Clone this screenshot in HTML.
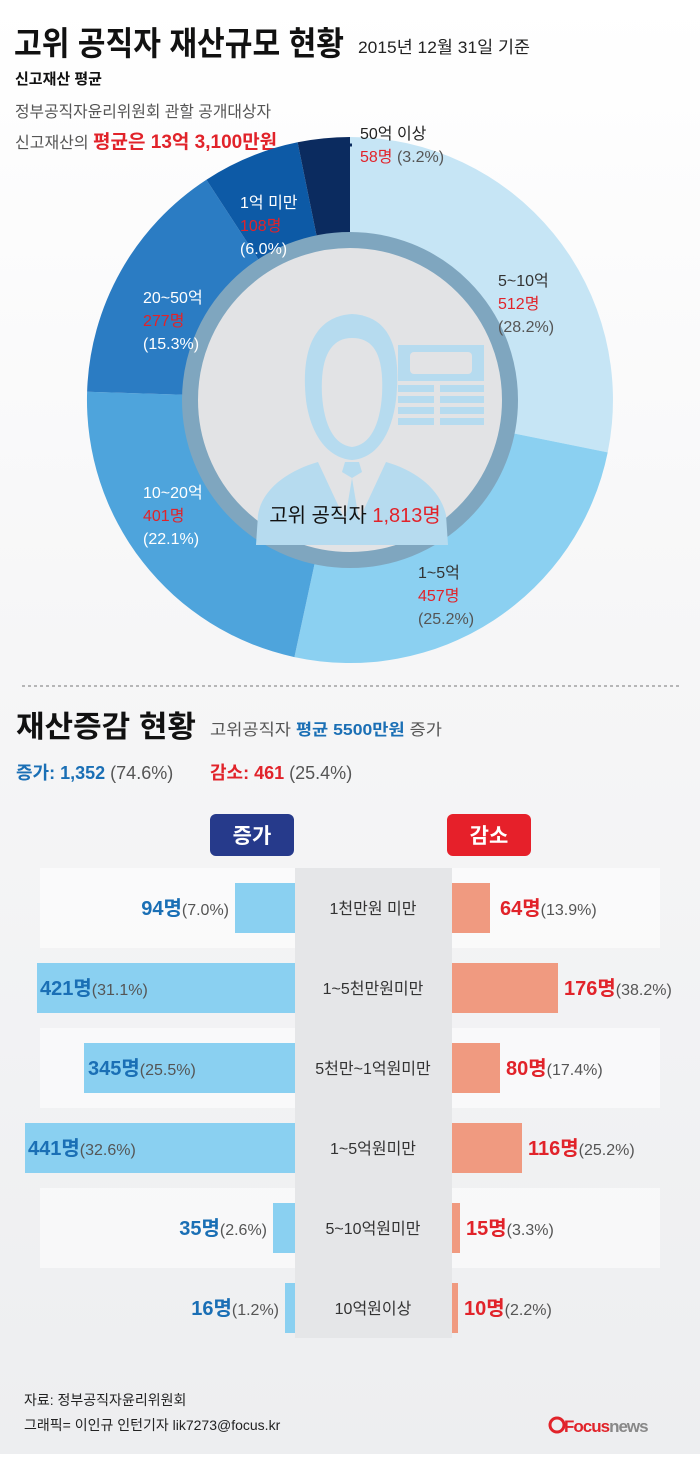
<!DOCTYPE html>
<html><head><meta charset="utf-8">
<style>
html,body{margin:0;padding:0}
body{width:700px;height:1454px;overflow:hidden;font-family:"Liberation Sans","Noto Sans CJK KR",sans-serif}
svg text{font-family:"Liberation Sans","Noto Sans CJK KR",sans-serif}
</style></head><body>
<svg width="700" height="1454" viewBox="0 0 700 1454" xmlns="http://www.w3.org/2000/svg">
<defs>
<linearGradient id="bg" x1="0" y1="0" x2="0" y2="1">
<stop offset="0" stop-color="#ffffff"/><stop offset="0.45" stop-color="#f6f6f7"/><stop offset="1" stop-color="#edeef0"/>
</linearGradient>
</defs>
<rect width="700" height="1454" fill="url(#bg)"/>
<!-- header -->
<text x="14" y="55" font-size="33" font-weight="bold" fill="#111" textLength="330" lengthAdjust="spacingAndGlyphs">고위 공직자 재산규모 현황</text>
<text x="358" y="53" font-size="17" fill="#222" textLength="172" lengthAdjust="spacingAndGlyphs">2015년 12월 31일 기준</text>
<text x="15" y="84" font-size="15" font-weight="bold" fill="#111">신고재산 평균</text>
<text x="15" y="117" font-size="16" fill="#555" textLength="256" lengthAdjust="spacingAndGlyphs">정부공직자윤리위원회 관할 공개대상자</text>
<text x="15" y="148" font-size="16" fill="#555">신고재산의 <tspan fill="#e1232a" font-size="19" font-weight="bold">평균은 13억 3,100만원</tspan></text>

<!-- donut -->
<path d="M350,137 A263,263 0 0 1 607.7,452.4 L497,430 A150,150 0 0 0 350,250 Z" fill="#c6e5f5"/>
<path d="M607.7,452.4 A263,263 0 0 1 294.4,657.1 L318.3,546.6 A150,150 0 0 0 497,430 Z" fill="#8bd0f1"/>
<path d="M294.4,657.1 A263,263 0 0 1 87.1,391.7 L200.1,395.3 A150,150 0 0 0 318.3,546.6 Z" fill="#4ea4dc"/>
<path d="M87.1,391.7 A263,263 0 0 1 206.4,179.7 L268.1,274.3 A150,150 0 0 0 200.1,395.3 Z" fill="#2b7cc3"/>
<path d="M206.4,179.7 A263,263 0 0 1 297.6,142.3 L320.1,253 A150,150 0 0 0 268.1,274.3 Z" fill="#0d5aa6"/>
<path d="M297.6,142.3 A263,263 0 0 1 350,137 L350,250 A150,150 0 0 0 320.1,253 Z" fill="#0b2b5f"/>
<circle cx="350" cy="400" r="160" fill="#e2e3e5" stroke="#7fa6bf" stroke-width="16"/>
<!-- person icon -->
<g fill="#b6dbef">
<path d="M306,400 C300,345 318,316 352,314 C388,316 402,345 396,400 C392,432 378,458 352,460 C326,458 310,432 306,400 Z"/>
<path d="M258,515 C262,488 290,470 318,462 L345,520 L352,478 L359,520 L386,462 C414,470 440,488 446,515 L448,545 L256,545 Z"/>
<polygon points="345,462 359,462 362,472 352,478 342,472"/>
<rect x="398" y="345" width="86" height="36"/>
<rect x="398" y="385" width="36" height="7"/><rect x="440" y="385" width="44" height="7"/>
<rect x="398" y="396" width="36" height="7"/><rect x="440" y="396" width="44" height="7"/>
<rect x="398" y="407" width="36" height="7"/><rect x="440" y="407" width="44" height="7"/>
<rect x="398" y="418" width="36" height="7"/><rect x="440" y="418" width="44" height="7"/>
</g>
<path d="M322,395 C320,355 332,338 352,338 C374,338 384,355 382,395 C380,425 370,445 352,447 C334,445 324,425 322,395 Z" fill="#e2e3e5"/>
<rect x="410" y="352" width="62" height="22" rx="4" fill="#e2e3e5"/>
<text x="355" y="522" font-size="20" text-anchor="middle" fill="#111">고위 공직자 <tspan fill="#e1232a">1,813명</tspan></text>

<!-- leader -->
<polyline points="329,186 329,145 352,145" fill="none" stroke="#0b2b5f" stroke-width="3"/>
<text x="360" y="139" font-size="16" fill="#222">50억 이상</text>
<text x="360" y="162" font-size="16" fill="#555"><tspan fill="#e1232a">58명</tspan> (3.2%)</text>

<g font-size="16">
<text x="240" y="208" fill="#fff">1억 미만</text>
<text x="240" y="231" fill="#e1232a">108명</text>
<text x="240" y="254" fill="#fff">(6.0%)</text>
<text x="143" y="303" fill="#fff">20~50억</text>
<text x="143" y="326" fill="#e1232a">277명</text>
<text x="143" y="349" fill="#fff">(15.3%)</text>
<text x="143" y="498" fill="#fff">10~20억</text>
<text x="143" y="521" fill="#e1232a">401명</text>
<text x="143" y="544" fill="#fff">(22.1%)</text>
<text x="498" y="286" fill="#333">5~10억</text>
<text x="498" y="309" fill="#e1232a">512명</text>
<text x="498" y="332" fill="#555">(28.2%)</text>
<text x="418" y="578" fill="#333">1~5억</text>
<text x="418" y="601" fill="#e1232a">457명</text>
<text x="418" y="624" fill="#555">(25.2%)</text>
</g>

<line x1="22" y1="686" x2="680" y2="686" stroke="#777" stroke-width="1" stroke-dasharray="3,3"/>
<text x="16" y="737" font-size="30" font-weight="bold" fill="#111" textLength="180" lengthAdjust="spacingAndGlyphs">재산증감 현황</text>
<text x="210" y="735" font-size="16" fill="#555" textLength="232" lengthAdjust="spacingAndGlyphs">고위공직자 <tspan fill="#1a6fb5" font-weight="bold">평균 5500만원</tspan> 증가</text>
<text x="16" y="779" font-size="18" fill="#555"><tspan fill="#1a6fb5" font-weight="bold">증가: 1,352</tspan> (74.6%)</text>
<text x="210" y="779" font-size="18" fill="#555"><tspan fill="#e1232a" font-weight="bold">감소: 461</tspan> (25.4%)</text>

<rect x="210" y="814" width="84" height="42" rx="6" fill="#263a8b"/>
<text x="252" y="843" font-size="21" font-weight="bold" fill="#fff" text-anchor="middle">증가</text>
<rect x="447" y="814" width="84" height="42" rx="6" fill="#e6202a"/>
<text x="489" y="843" font-size="21" font-weight="bold" fill="#fff" text-anchor="middle">감소</text>

<!-- row bands -->
<g fill="#ffffff" opacity="0.55">
<rect x="40" y="868" width="620" height="80"/><rect x="40" y="1028" width="620" height="80"/><rect x="40" y="1188" width="620" height="80"/>
</g>
<rect x="295" y="868" width="157" height="470" fill="#e5e6e8"/>

<g font-size="16" fill="#333" text-anchor="middle">
<text x="373" y="914">1천만원 미만</text>
<text x="373" y="994">1~5천만원미만</text>
<text x="373" y="1074">5천만~1억원미만</text>
<text x="373" y="1154">1~5억원미만</text>
<text x="373" y="1234">5~10억원미만</text>
<text x="373" y="1314">10억원이상</text>
</g>
<g fill="#8ad0f1">
<rect x="235" y="883" width="60" height="50"/>
<rect x="37" y="963" width="258" height="50"/>
<rect x="84" y="1043" width="211" height="50"/>
<rect x="25" y="1123" width="270" height="50"/>
<rect x="273" y="1203" width="22" height="50"/>
<rect x="285" y="1283" width="10" height="50"/>
</g>
<g fill="#f09a80">
<rect x="452" y="883" width="38" height="50"/>
<rect x="452" y="963" width="106" height="50"/>
<rect x="452" y="1043" width="48" height="50"/>
<rect x="452" y="1123" width="70" height="50"/>
<rect x="452" y="1203" width="8" height="50"/>
<rect x="452" y="1283" width="6" height="50"/>
</g>
<g font-size="16" fill="#555">
<text x="229" y="915" text-anchor="end"><tspan fill="#1a6fb5" font-size="20" font-weight="bold">94명</tspan>(7.0%)</text>
<text x="40" y="995"><tspan fill="#1a6fb5" font-size="20" font-weight="bold">421명</tspan>(31.1%)</text>
<text x="88" y="1075"><tspan fill="#1a6fb5" font-size="20" font-weight="bold">345명</tspan>(25.5%)</text>
<text x="28" y="1155"><tspan fill="#1a6fb5" font-size="20" font-weight="bold">441명</tspan>(32.6%)</text>
<text x="267" y="1235" text-anchor="end"><tspan fill="#1a6fb5" font-size="20" font-weight="bold">35명</tspan>(2.6%)</text>
<text x="279" y="1315" text-anchor="end"><tspan fill="#1a6fb5" font-size="20" font-weight="bold">16명</tspan>(1.2%)</text>
<text x="500" y="915"><tspan fill="#e1232a" font-size="20" font-weight="bold">64명</tspan>(13.9%)</text>
<text x="564" y="995"><tspan fill="#e1232a" font-size="20" font-weight="bold">176명</tspan>(38.2%)</text>
<text x="506" y="1075"><tspan fill="#e1232a" font-size="20" font-weight="bold">80명</tspan>(17.4%)</text>
<text x="528" y="1155"><tspan fill="#e1232a" font-size="20" font-weight="bold">116명</tspan>(25.2%)</text>
<text x="466" y="1235"><tspan fill="#e1232a" font-size="20" font-weight="bold">15명</tspan>(3.3%)</text>
<text x="464" y="1315"><tspan fill="#e1232a" font-size="20" font-weight="bold">10명</tspan>(2.2%)</text>
</g>

<text x="24" y="1405" font-size="14" fill="#222">자료: 정부공직자윤리위원회</text>
<text x="24" y="1430" font-size="14" fill="#222">그래픽= 이인규 인턴기자 lik7273@focus.kr</text>
<circle cx="557" cy="1425" r="7" fill="none" stroke="#e1232a" stroke-width="3"/>
<text x="564" y="1432" font-size="17" font-weight="bold" fill="#e1232a" letter-spacing="-1">Focus<tspan fill="#888">news</tspan></text>
</svg>
</body></html>
